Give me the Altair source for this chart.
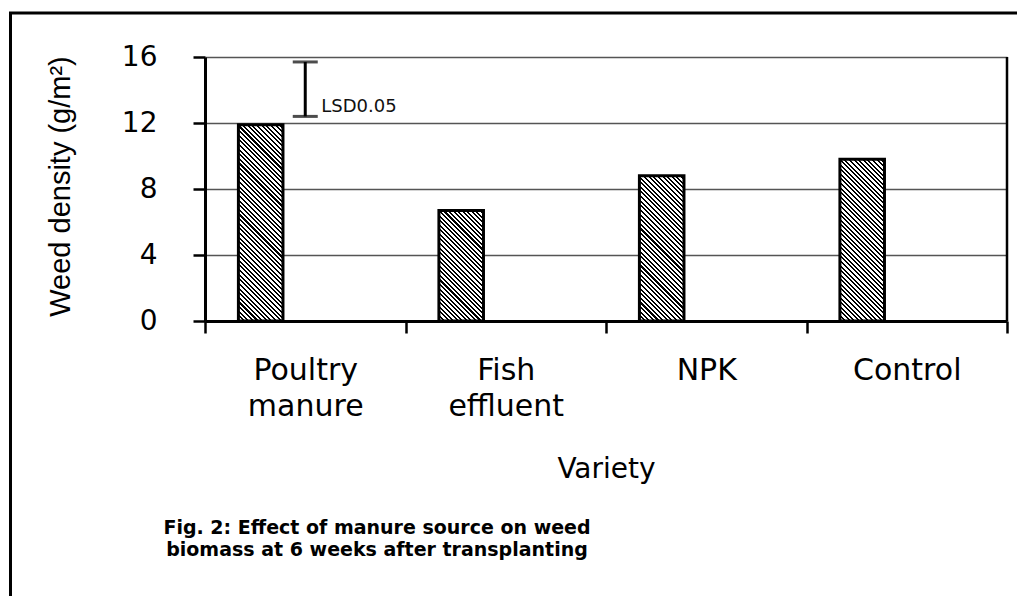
import altair as alt
import pandas as pd

# ---- data ----
categories = ["Poultry manure", "Fish effluent", "NPK", "Control"]
weed_density = [11.9, 6.7, 8.8, 9.8]
y_ticks = [0, 4, 8, 12, 16]
y_max = 16
lsd_category = "Poultry manure"
lsd_low = 12.4
lsd_high = 15.7
lsd_label = "LSD0.05"
y_title = "Weed density (g/m²)"
x_title = "Variety"
caption_lines = ["Fig. 2: Effect of manure source on weed",
                 "biomass at 6 weeks after transplanting"]

# ---- layout ----
PLOT_W, PLOT_H = 802, 264
STEP = PLOT_W / len(categories)
BAR_W = STEP / 4.5
BAR_SHIFT = -(STEP / 2 - 0.75 * BAR_W - BAR_W / 2)


def hatch(value, period=4.6, ink=0.45):
    """Diagonal '\\' hatch as a sharp-stop linear gradient sized to the bar."""
    W = BAR_W
    H = value * PLOT_H / y_max
    k = H / W
    s = (1 + k) / (1 + k * k)
    n = max(1, round((W + H) / period))
    stops = []
    for i in range(n):
        a, b, c = i / n, (i + ink) / n, (i + 1) / n
        stops += [{"offset": a, "color": "#000000"},
                  {"offset": b, "color": "#000000"},
                  {"offset": b, "color": "#ffffff"},
                  {"offset": c, "color": "#ffffff"}]
    return {"gradient": "linear", "x1": 0, "y1": 1, "x2": s, "y2": 1 - s * k,
            "stops": stops}


df = pd.DataFrame({"category": categories, "value": weed_density})
lsd_df = pd.DataFrame({"category": [lsd_category], "low": [lsd_low], "high": [lsd_high],
                       "label": [lsd_label]})
lsd_ends = pd.DataFrame({"category": [lsd_category, lsd_category], "value": [lsd_low, lsd_high]})
one = pd.DataFrame({"k": [0]})
cap_df = pd.DataFrame({"t": ["\n".join(caption_lines)]})

x_axis = alt.Axis(
    title=x_title, labelAngle=0, tickBand="extent", tickSize=12, tickWidth=2.5,
    tickColor="black", domainColor="black", domainWidth=3, grid=False,
    labelFont="DejaVu Sans", labelFontSize=30, labelColor="black", labelPadding=22,
    labelLineHeight=36, labelExpr="split(datum.label, ' ')",
    titleFont="DejaVu Sans", titleFontSize=28, titleFontWeight="normal", titleColor="black",
    titleY=156, titleBaseline="alphabetic",
)
y_axis = alt.Axis(
    title=y_title, values=y_ticks, grid=True, gridColor="#555555", gridWidth=1.5,
    tickSize=12, tickWidth=2.5, tickColor="black", domainColor="black", domainWidth=3,
    labelFont="DejaVu Sans", labelFontSize=28, labelColor="black", labelPadding=36,
    titleFont="Liberation Sans", titleFontSize=29, titleFontWeight="normal",
    titleColor="black", titleX=-136, titleY=PLOT_H / 2 - 3, titleAngle=-90,
    titleBaseline="alphabetic",
)
x_enc = alt.X("category:N", sort=categories, title=x_title,
              scale=alt.Scale(domain=categories, paddingInner=0, paddingOuter=0), axis=x_axis)
y_scale = alt.Scale(domain=[0, y_max], nice=False)


def y_enc(field):
    return alt.Y(field, type="quantitative", title=y_title, scale=y_scale, axis=y_axis)


layers = []
for cat, val in zip(categories, weed_density):
    layers.append(
        alt.Chart(df).transform_filter(alt.datum.category == cat)
        .mark_bar(size=BAR_W, xOffset=BAR_SHIFT, fill=hatch(val), stroke="black",
                  strokeWidth=3)
        .encode(x=x_enc, y=y_enc("value"))
    )

lsd_rule = alt.Chart(lsd_df).mark_rule(color="black", strokeWidth=3).encode(
    x=x_enc, y=y_enc("low"), y2="high:Q")
lsd_caps = alt.Chart(lsd_ends).mark_tick(color="black", size=25, thickness=3).encode(
    x=x_enc, y=y_enc("value"))
lsd_text = alt.Chart(lsd_df).mark_text(
    align="left", baseline="alphabetic", dx=16, dy=-4, font="DejaVu Sans",
    fontSize=18, color="#111111").encode(x=x_enc, y=y_enc("low"), text="label:N")

right_border = alt.Chart(one).mark_rule(color="black", strokeWidth=2.5).encode(
    x=alt.value(PLOT_W), y=alt.value(0), y2=alt.value(PLOT_H))
frame_left = alt.Chart(one).mark_rule(color="black", strokeWidth=3).encode(
    x=alt.value(-194.5), y=alt.value(-45), y2=alt.value(600))
frame_top = alt.Chart(one).mark_rule(color="black", strokeWidth=3).encode(
    x=alt.value(-196), x2=alt.value(830), y=alt.value(-44))

caption = alt.Chart(cap_df).mark_text(
    lineBreak="\n", align="center", baseline="alphabetic", font="DejaVu Sans",
    fontSize=19, fontWeight="bold", lineHeight=22, color="black").encode(
    x=alt.value(172), y=alt.value(477), text="t:N")

chart = alt.layer(*layers, lsd_rule, lsd_caps, lsd_text, right_border,
                  frame_left, frame_top, caption).properties(
    width=PLOT_W, height=PLOT_H,
    autosize=alt.AutoSizeParams(type="none"),
    padding={"left": 197, "top": 49, "right": 10, "bottom": 275},
    background="white",
).configure_view(stroke=None)

chart.save("out.html", embed_options={"renderer": "svg", "actions": False})
